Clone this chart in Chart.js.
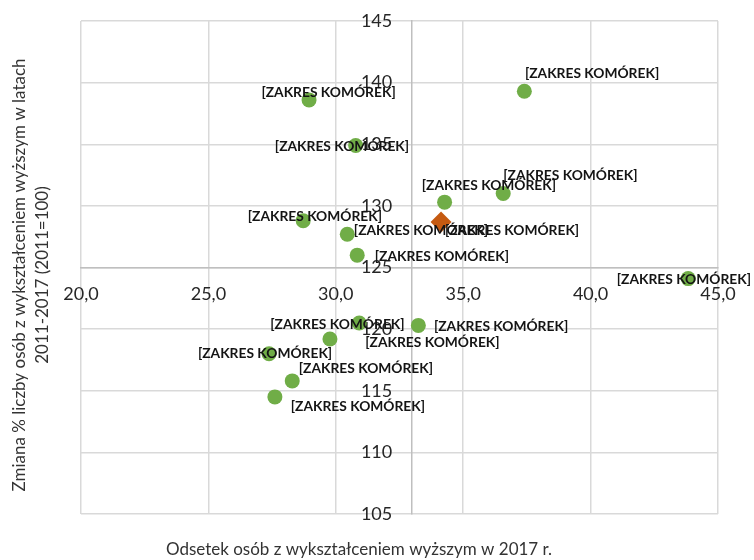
<!DOCTYPE html>
<html>
<head>
<meta charset="utf-8">
<script src="https://cdn.jsdelivr.net/npm/chart.js@4.4.1/dist/chart.umd.min.js"></script>
<style>
  html, body { margin: 0; padding: 0; background: #fff; }
  #wrap { width: 754px; height: 560px; position: relative; }
</style>
</head>
<body>
<div id="wrap"><canvas id="chart"></canvas></div>
<script>
// powiaty: odsetek z wyższym (2017) vs zmiana 2011-2017
const regionX = [28.95, 30.78, 28.72, 30.45, 30.84, 34.27, 36.57, 37.40, 43.83, 30.92, 33.24, 29.77, 27.38, 28.29, 27.61];
const regionY = [138.6, 134.9, 128.8, 127.7, 126.0, 130.3, 131.0, 139.3, 124.1, 120.5, 120.3, 119.2, 118.0, 115.8, 114.5];
const regionLabels = regionX.map(() => '[ZAKRES KOMÓREK]');

// średnia dla województwa
const avgX = [34.13];
const avgY = [128.7];
const avgLabels = ['[ZAKRES KOMÓREK]'];

const xTickValues = [20, 25, 30, 35, 40, 45];
const yTickValues = [105, 110, 115, 120, 125, 130, 135, 140, 145];

const xTitle = 'Odsetek osób z wykształceniem wyższym w 2017 r.';
const yTitle = ['Zmiana % liczby osób z wykształceniem wyższym w latach', '2011-2017 (2011=100)'];

// przesunięcia etykiet względem punktu (px), ręcznie jak w Excelu
const regionShift = [[19.5, -7.7], [-13.7, 1], [11.7, -4], [73.7, -3.3], [84.7, 1], [44.3, -16.6],
    [67.2, -17.6], [67.7, -17.7], [-4.3, 1], [-21.8, 1.3], [82.7, 1], [102.5, 3.4], [-4, -0.6],
    [73.7, -12], [83, 10]];
const avgShift = [[71, 8.7]];

const gridColor = '#d9d9d9';
const axisColor = '#bfbfbf';
const textColor = '#262626';
const tickFont = '18px Lato';

const cellLabels = {
    id: 'cellLabels',
    afterDatasetsDraw(chart) {
        const ctx = chart.ctx;
        ctx.save();
        ctx.font = 'bold 13.8px Lato';
        ctx.fillStyle = '#141414';
        ctx.textAlign = 'center';
        ctx.textBaseline = 'middle';
        chart.data.datasets.forEach((ds, i) => {
            chart.getDatasetMeta(i).data.forEach((pt, j) => {
                const s = ds.labelShift[j];
                ctx.fillText(ds.pointLabels[j], pt.x + s[0], pt.y + s[1]);
            });
        });
        ctx.restore();
    }
};

// etykiety osi Y przy osi przeciętej w x=33 (Chart.js nie daje tu paddingu)
const yAxisLabels = {
    id: 'yAxisLabels',
    beforeDatasetsDraw(chart) {
        const ctx = chart.ctx;
        const xs = chart.scales.x;
        const ys = chart.scales.y;
        const axisX = xs.getPixelForValue(ys.options.position.x);
        ctx.save();
        ctx.font = tickFont;
        ctx.fillStyle = textColor;
        ctx.textAlign = 'right';
        ctx.textBaseline = 'middle';
        ys.ticks.forEach(t => {
            ctx.fillText(String(t.value), axisX - 20, ys.getPixelForValue(t.value));
        });
        ctx.restore();
    }
};

const axisTitles = {
    id: 'axisTitles',
    afterDraw(chart) {
        const ctx = chart.ctx;
        const area = chart.chartArea;
        ctx.save();
        ctx.font = '17px Lato';
        ctx.fillStyle = '#333333';
        ctx.textAlign = 'center';
        ctx.textBaseline = 'middle';
        ctx.fillText(xTitle, area.left + 278, 550);

        ctx.translate(0, 275);
        ctx.rotate(-Math.PI / 2);
        ctx.fillText(yTitle[0], 0, 20);
        ctx.fillText(yTitle[1], 0, 43);
        ctx.restore();
    }
};

function setTicks(values) {
    return function (scale) {
        scale.ticks = values.map(v => ({ value: v }));
    };
}

new Chart(document.getElementById('chart'), {
    type: 'scatter',
    data: {
        datasets: [{
            label: 'powiaty',
            data: regionX.map((x, i) => ({ x: x, y: regionY[i] })),
            pointLabels: regionLabels,
            labelShift: regionShift,
            backgroundColor: '#70ad47',
            borderColor: '#70ad47',
            pointStyle: 'circle',
            pointRadius: 7.5,
            pointHoverRadius: 7.5,
            borderWidth: 0
        }, {
            label: 'województwo',
            data: avgX.map((x, i) => ({ x: x, y: avgY[i] })),
            pointLabels: avgLabels,
            labelShift: avgShift,
            backgroundColor: '#c55a11',
            borderColor: '#c55a11',
            pointStyle: 'rectRot',
            pointRadius: 10.5,
            pointHoverRadius: 10.5,
            borderWidth: 0
        }]
    },
    options: {
        responsive: true,
        maintainAspectRatio: false,
        animation: false,
        layout: { padding: { left: 81, right: 36, top: 21, bottom: 46 } },
        scales: {
            x: {
                type: 'linear',
                position: { y: 125 },
                min: 20,
                max: 45,
                afterBuildTicks: setTicks(xTickValues),
                grid: { color: gridColor, lineWidth: 1.5, drawTicks: false },
                border: { color: axisColor, width: 1.5 },
                ticks: {
                    padding: 16,
                    color: textColor,
                    font: { family: 'Lato', size: 18 },
                    callback: v => v.toFixed(1).replace('.', ',')
                }
            },
            y: {
                type: 'linear',
                position: { x: 33 },
                min: 105,
                max: 145,
                afterBuildTicks: setTicks(yTickValues),
                grid: { color: gridColor, lineWidth: 1.5, drawTicks: false },
                border: { color: axisColor, width: 1.5 },
                ticks: { display: false }
            }
        },
        plugins: {
            legend: { display: false },
            tooltip: { enabled: false }
        }
    },
    plugins: [yAxisLabels, cellLabels, axisTitles]
});
</script>
</body>
</html>
